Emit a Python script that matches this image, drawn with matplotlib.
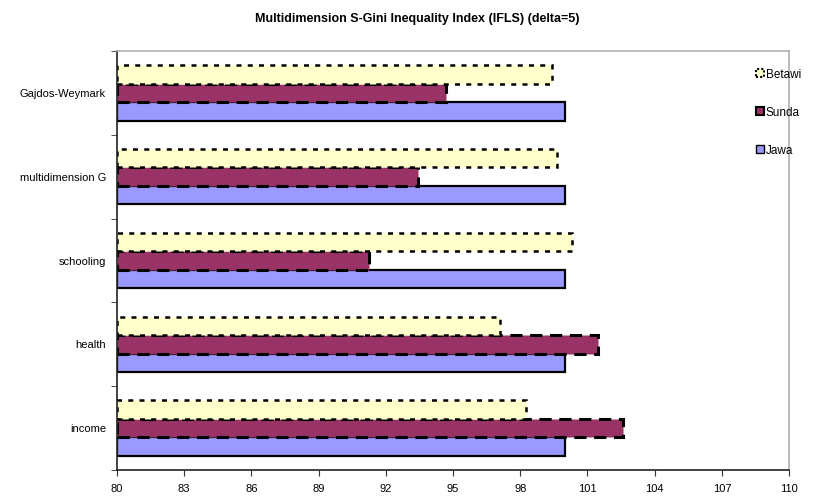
import numpy as np
import matplotlib.pyplot as plt
from matplotlib.patches import Patch

categories = ["income", "health", "schooling", "multidimension G", "Gajdos-Weymark"]
jawa = [100.0, 100.0, 100.0, 100.0, 100.0]
sunda = [102.6, 101.45, 91.25, 93.45, 94.7]
betawi = [98.25, 97.1, 100.3, 99.65, 99.4]
x_ticks = [80, 83, 86, 89, 92, 95, 98, 101, 104, 107, 110]

plt.rcParams['font.family'] = ['Liberation Sans', 'DejaVu Sans']

fig = plt.figure(figsize=(8.16, 4.97), dpi=100)
ax = fig.add_axes([0.1434, 0.0543, 0.8236, 0.8431])

y = np.arange(len(categories))
h = 0.22
base = 80

ax.barh(y - h, np.array(jawa) - base, height=h, left=base, color="#9999FF",
        edgecolor="black", linewidth=1.6, label="Jawa")
ax.barh(y, np.array(sunda) - base, height=h, left=base, color="#993366",
        edgecolor="black", linewidth=2.2, linestyle=(0, (4, 2.5)), label="Sunda")
ax.barh(y + h, np.array(betawi) - base, height=h, left=base, color="#FFFFCC",
        edgecolor="black", linewidth=1.8, linestyle=(0, (2, 2.5)), label="Betawi")

ax.set_xlim(80, 110)
ax.set_ylim(-0.5, len(categories) - 0.5)
ax.set_xticks(x_ticks)
ax.set_xticklabels([str(t) for t in x_ticks], fontsize=8)
ax.set_yticks(y)
ax.set_yticklabels(categories, fontsize=8)
ax.tick_params(axis="y", which="major", length=0, pad=8)
ax.set_yticks(np.arange(-0.5, len(categories), 1), minor=True)
ax.tick_params(axis="y", which="minor", length=4, direction="out", color="#333333")
ax.tick_params(axis="x", length=4, direction="out", color="#333333", pad=6)

for side in ["left", "bottom"]:
    ax.spines[side].set_color("#222222")
    ax.spines[side].set_linewidth(1.2)
for side in ["top", "right"]:
    ax.spines[side].set_color("#B0B0B0")
    ax.spines[side].set_linewidth(1.2)

fig.text(0.511, 1 - 19 / 497, "Multidimension S-Gini Inequality Index (IFLS) (delta=5)",
         ha="center", va="center", fontsize=9, fontweight="bold")

handles = [
    Patch(facecolor="#FFFFCC", edgecolor="black", linestyle=(0, (1, 1)), linewidth=1.5),
    Patch(facecolor="#993366", edgecolor="black", linewidth=1.5),
    Patch(facecolor="#9999FF", edgecolor="black", linewidth=1),
]
fig.legend(handles, ["Betawi", "Sunda", "Jawa"], loc="upper left",
           bbox_to_anchor=(0.927, 0.862), frameon=False, fontsize=8.5,
           handlelength=0.65, handleheight=0.65, handletextpad=0.15,
           labelspacing=2.2, borderpad=0, borderaxespad=0)

fig.savefig("out.png", dpi=100)
